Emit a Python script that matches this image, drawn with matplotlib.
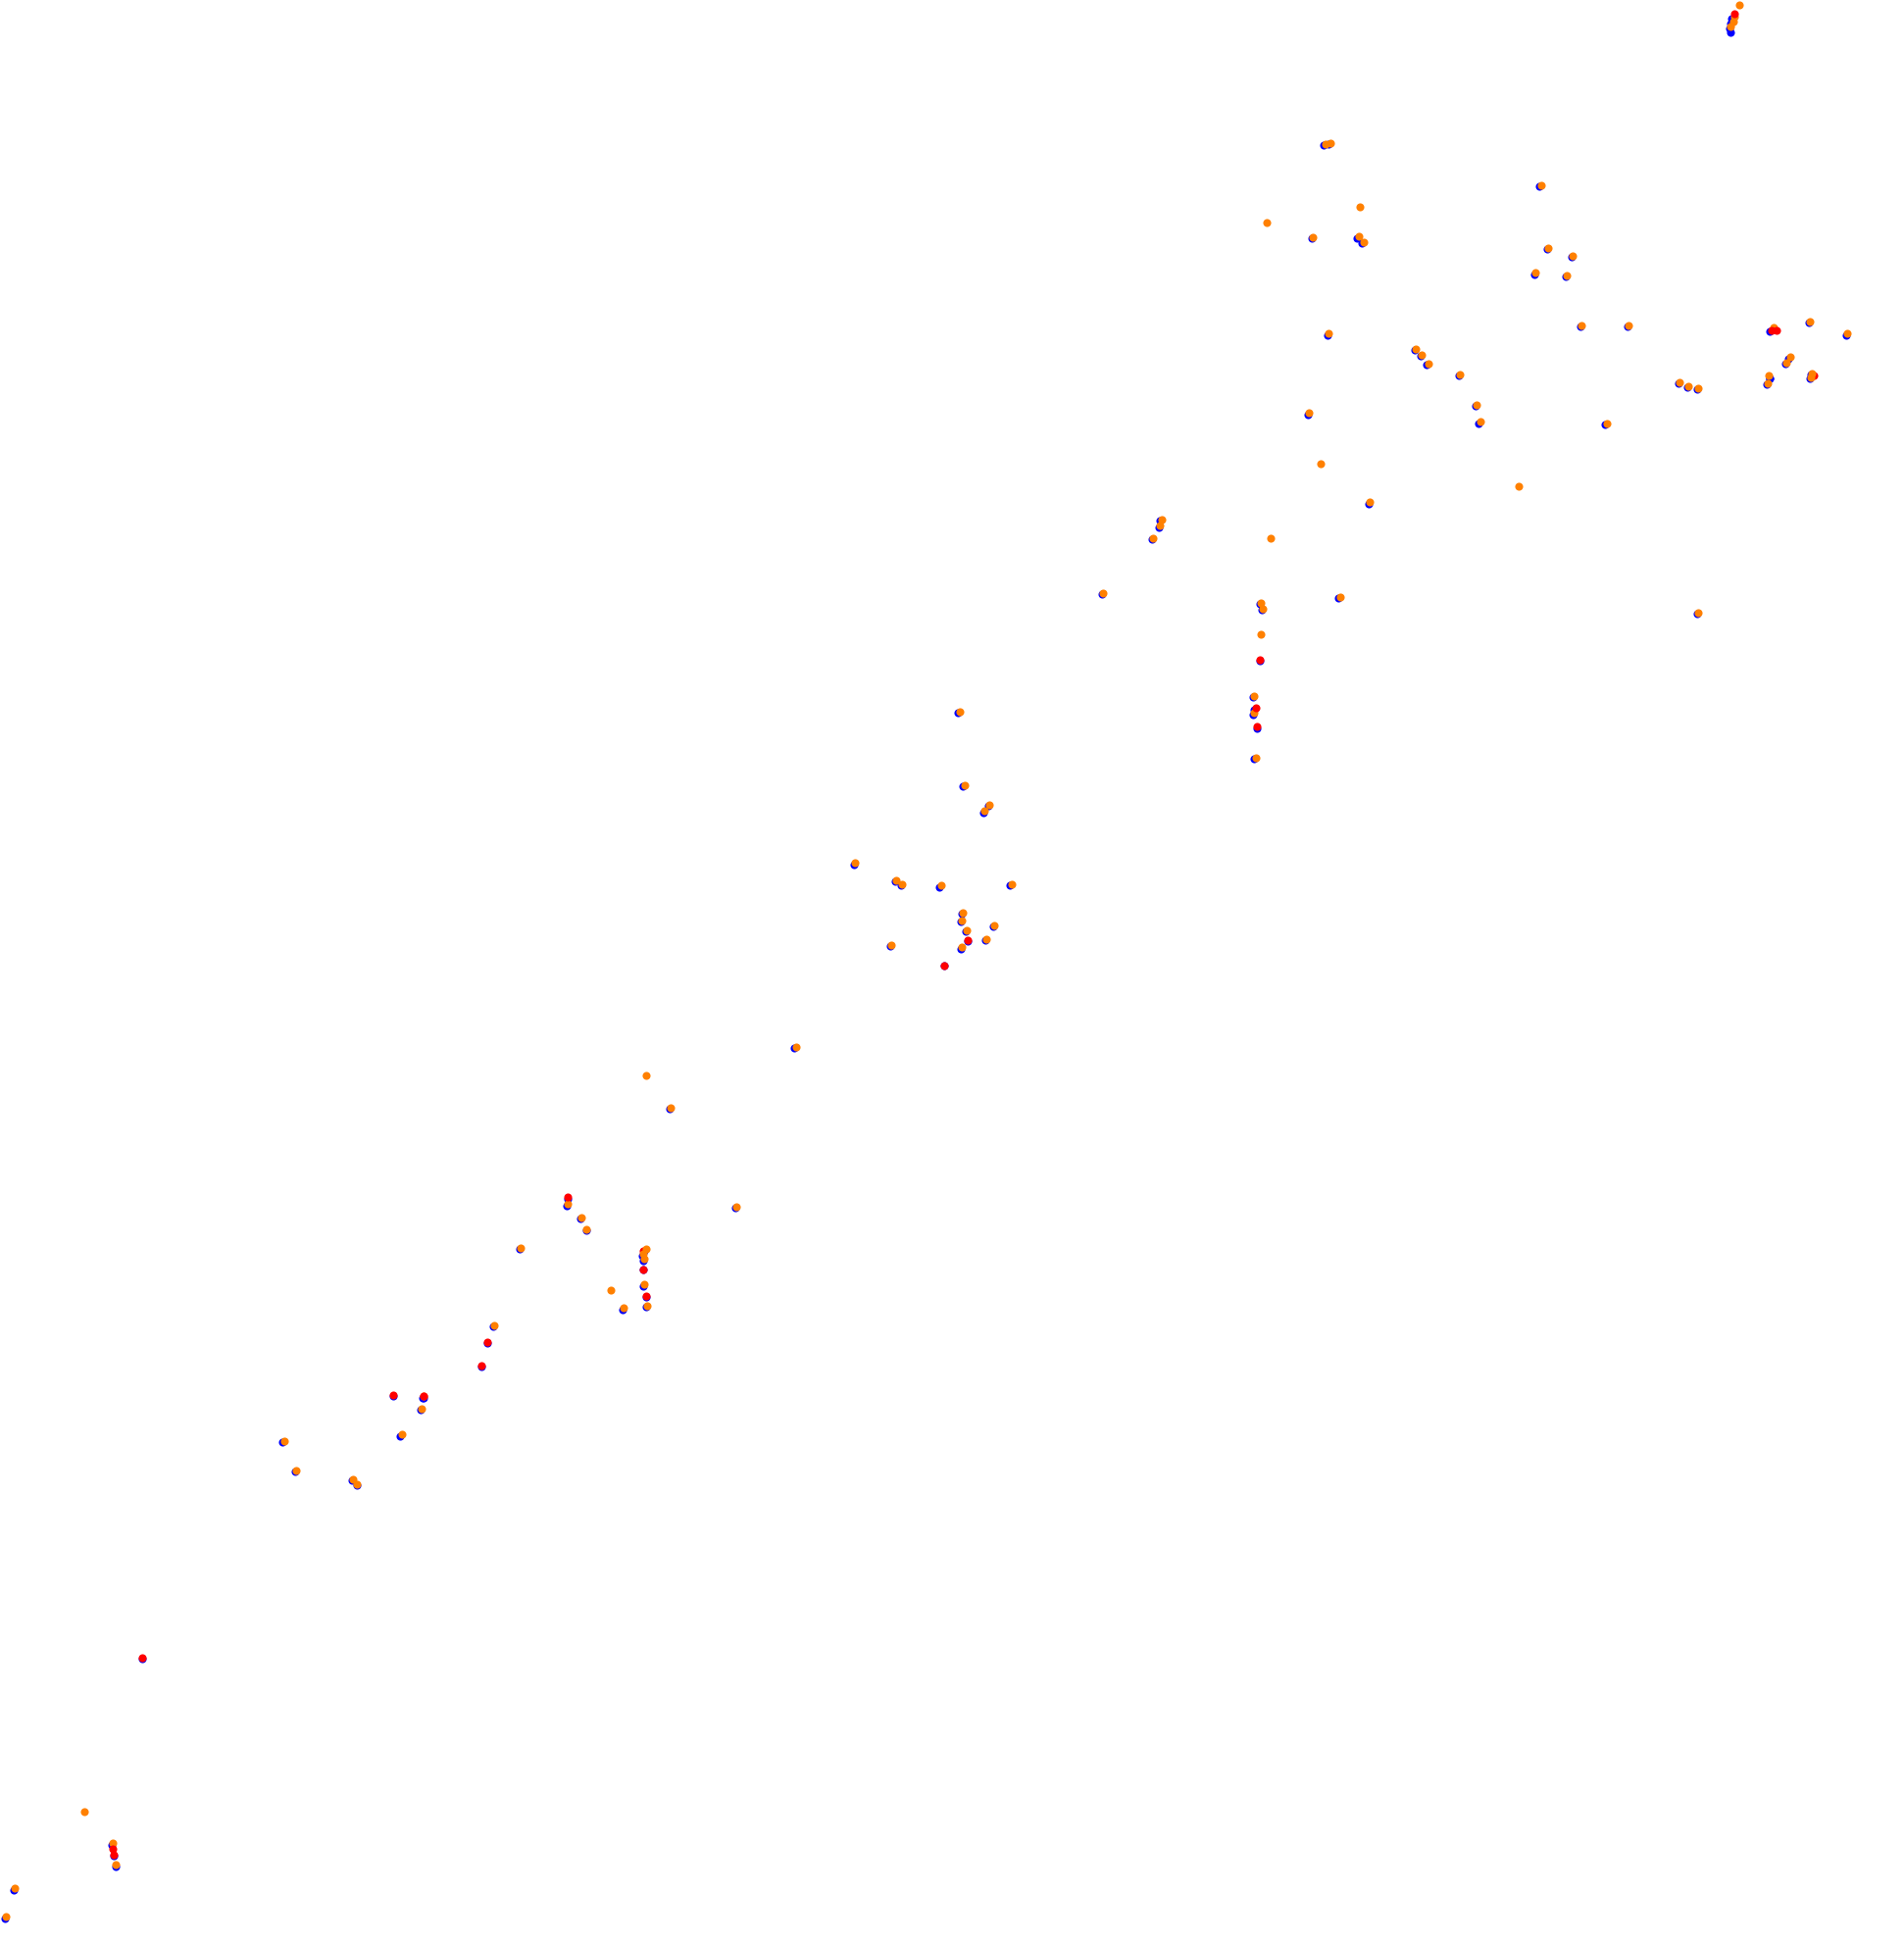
import matplotlib
matplotlib.use("Agg")
import matplotlib.pyplot as plt

# positions (x to the right, y downwards)
orange_x = [1403, 1399, 1398, 1396, 1073, 1069, 1097, 1022, 1059, 1096, 1100,
            1249, 1269, 1239, 1264, 1072, 1276, 1314, 1460, 1490, 1142, 1147,
            1152, 1178, 1444, 1441, 1427, 1426, 1462, 1461, 1355, 1362, 1370,
            1056, 1191, 1194, 1296, 1065, 1225, 1105, 937, 936, 930, 1025,
            890, 1081, 1017, 1019, 1370, 1017, 1012, 1012, 1013, 774, 778,
            798, 794, 690, 723, 728, 759, 816, 777, 776, 802, 780, 796, 719,
            776, 642, 521, 541, 594, 458, 469, 473, 420, 521, 519, 520, 520,
            522, 493, 503, 399, 340, 342, 324, 229, 239, 285, 288, 68, 91, 93,
            12, 5, 1243, 1431]
orange_y = [5, 14, 18, 22, 116, 117, 168, 180, 192, 191, 196,
            201, 207, 221, 223, 270, 263, 263, 260, 270, 282, 287,
            294, 303, 289, 293, 304, 310, 302, 305, 309, 312, 314,
            334, 327, 341, 342, 375, 393, 406, 420, 425, 435, 435,
            479, 482, 487, 492, 495, 512, 562, 576, 612, 575, 634,
            650, 655, 697, 711, 714, 715, 714, 737, 743, 747, 751, 758, 763,
            765, 845, 868, 894, 974, 972, 983, 992, 1007, 1008, 1012, 1016, 1037,
            1054, 1041, 1056, 1070, 1137, 1127, 1158, 1163, 1187, 1194, 1198, 1462, 1487, 1505,
            1524, 1547, 150, 265]

blue_x = [1396, 1397, 1396, 1395, 1072, 1068, 1058, 1095, 1099,
          1248, 1268, 1238, 1263, 1071, 1275, 1313, 1459, 1489, 1141, 1146,
          1151, 1177, 1443, 1440, 1428, 1425, 1461, 1460, 1354, 1361, 1369,
          1055, 1190, 1193, 1295, 1104, 936, 935, 929,
          889, 1080, 1016, 1018, 1369, 1011, 1011, 1012, 773, 777,
          797, 793, 689, 722, 727, 758, 815, 776, 775, 801, 779, 795, 718,
          775, 641, 540, 593, 457, 468, 473, 419, 520, 518, 519, 519,
          521, 502, 398, 339, 341, 323, 228, 238, 284, 288, 90, 93,
          11, 4, 1242, 1428, 1428, 1016, 1012, 1014, 762, 781, 519, 393, 388,
          317, 342, 115, 92, 458, 521]
blue_y = [27, 16, 20, 24, 117, 118, 193, 193, 197,
          202, 208, 222, 224, 271, 264, 264, 261, 271, 283, 288,
          295, 304, 290, 294, 306, 311, 303, 306, 310, 313, 315,
          335, 328, 342, 343, 407, 421, 426, 436,
          480, 483, 488, 493, 496, 563, 577, 613, 576, 635,
          651, 656, 698, 712, 715, 716, 715, 738, 744, 748, 752, 759, 764,
          766, 846, 895, 975, 973, 984, 993, 1008, 1010, 1014, 1018, 1038,
          1055, 1057, 1071, 1138, 1128, 1159, 1164, 1188, 1195, 1199, 1489, 1506,
          1525, 1548, 151, 268, 306, 534, 573, 588, 780, 760, 1025, 1084, 1103,
          1127, 1128, 1339, 1498, 968, 1047]

# red marks that sit on top of the orange ones
red_x = [1399, 1429, 1433, 1016, 1013, 1014, 781, 762, 458, 519, 521, 393,
         388, 317, 342, 115, 92, 91]
red_y = [12, 267, 267, 533, 572, 587, 759, 780, 966, 1025, 1046, 1083,
         1102, 1126, 1127, 1338, 1497, 1492]

# red marks hidden under orange ones
red_low_x = [1463, 519]
red_low_y = [304, 1010]

fig = plt.figure(figsize=(19.42, 19.83), dpi=100)
ax = fig.add_axes([0, 0, 1, 1])
ax.scatter(blue_x, blue_y, s=34, color='#0000ff', linewidths=0, zorder=1)
ax.scatter(red_low_x, red_low_y, s=34, color='#ff0000', linewidths=0, zorder=2)
ax.scatter(orange_x, orange_y, s=34, color='#ff8000', linewidths=0, zorder=3)
ax.scatter(red_x, red_y, s=34, color='#ff0000', linewidths=0, zorder=4)
ax.set_xlim(0, 1536)
ax.set_ylim(1568, 0)
ax.axis('off')
fig.savefig('out.png', dpi=100, facecolor='white')
